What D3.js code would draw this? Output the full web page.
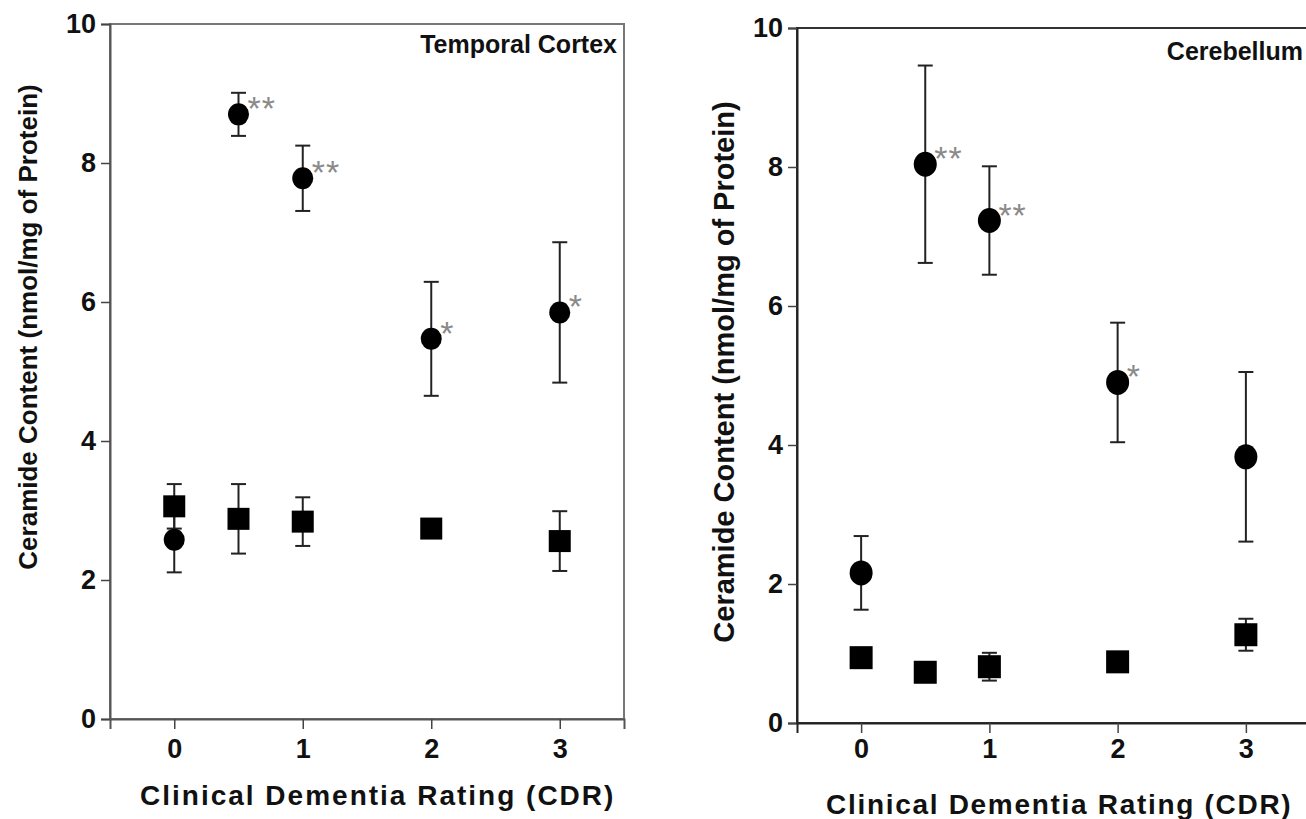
<!doctype html>
<html>
<head>
<meta charset="utf-8">
<style>
    body { margin: 0; background: #fff; }
    text { font-family: "Liberation Sans", Arial, sans-serif; font-weight: bold; }
    .tick text { font-size: 27px; fill: #111; }
    .mark { fill: #8a8a8a; font-size: 34px; font-weight: normal; }
</style>
<script src="https://d3js.org/d3.v7.min.js"></script>
</head>
<body>
<svg width="1306" height="819"></svg>
<script>
    // CDR groups on the x axis
    var cdr = [0, 0.5, 1, 2, 3];
    var xTicks = [0, 1, 2, 3];
    var yTicks = [0, 2, 4, 6, 8, 10];

    // Temporal cortex: circles and squares with SEM
    var tcCircle    = [2.58, 8.70, 7.78, 5.47, 5.85];
    var tcCircleErr = [0.47, 0.31, 0.47, 0.82, 1.01];
    var tcCircleMark = ["", "**", "**", "*", "*"];
    var tcSquare    = [3.06, 2.88, 2.84, 2.74, 2.56];
    var tcSquareErr = [0.32, 0.50, 0.35, 0.10, 0.43];

    // Cerebellum
    var cbCircle    = [2.16, 8.04, 7.23, 4.90, 3.83];
    var cbCircleErr = [0.53, 1.42, 0.78, 0.86, 1.22];
    var cbCircleMark = ["", "**", "**", "*", ""];
    var cbSquare    = [0.94, 0.73, 0.81, 0.88, 1.27];
    var cbSquareErr = [0.10, 0.10, 0.20, 0.10, 0.23];

    var svg = d3.select("svg");

    function drawPanel(p) {
        var x = d3.scaleLinear().domain([-0.5, 3.5]).range([p.left, p.right]);
        var y = d3.scaleLinear().domain([0, 10]).range([p.bottom, p.top]);
        var g = svg.append("g");

        // frame
        g.append("rect")
         .attr("x", p.left).attr("y", p.top)
         .attr("width", p.right - p.left).attr("height", p.bottom - p.top)
         .attr("fill", "none")
         .attr("stroke", p.frame)
         .attr("stroke-width", 2);

        var yAxis = g.append("g")
         .attr("transform", "translate(" + p.left + ",0)")
         .call(d3.axisLeft(y).tickValues(yTicks).tickFormat(d3.format("d"))
               .tickSize(9).tickPadding(5));
        var xAxis = g.append("g")
         .attr("transform", "translate(0," + p.bottom + ")")
         .call(d3.axisBottom(x).tickValues(xTicks).tickFormat(d3.format("d"))
               .tickSize(10).tickPadding(p.xPad));
        [yAxis, xAxis].forEach(function(a) {
            a.select(".domain").attr("stroke", p.axis).attr("stroke-width", 2);
            a.selectAll(".tick line").attr("stroke", "#444").attr("stroke-width", 1.5);
            a.attr("font-size", null).attr("font-family", null);
        });

        // panel name
        g.append("text")
         .attr("x", p.right - 7)
         .attr("y", p.top + p.nameDy)
         .attr("text-anchor", "end")
         .attr("font-size", "25px")
         .attr("fill", "#111")
         .text(p.name);

        // axis titles
        g.append("text")
         .attr("x", p.xTitleX)
         .attr("y", p.xTitleY)
         .attr("font-size", "28px")
         .attr("letter-spacing", p.xTitleSpacing)
         .attr("fill", "#111")
         .text("Clinical Dementia Rating (CDR)");

        g.append("text")
         .attr("transform", "translate(" + p.yTitleX + "," + p.yTitleY + ") rotate(-90)")
         .attr("text-anchor", "middle")
         .attr("font-size", p.yTitleSize)
         .attr("fill", "#111")
         .text("Ceramide Content (nmol/mg of Protein)");

        var circles = cdr.map(function(c, i) {
            return { x: c, v: p.circle[i], e: p.circleErr[i], m: p.mark[i] };
        });
        var squares = cdr.map(function(c, i) {
            return { x: c, v: p.square[i], e: p.squareErr[i] };
        });

        var cap = 7.5;
        function errBars(data) {
            var eb = g.selectAll(null).data(data).enter().append("g")
                      .attr("stroke", "#222").attr("stroke-width", 2);
            eb.append("line")
              .attr("x1", function(d) { return x(d.x); })
              .attr("x2", function(d) { return x(d.x); })
              .attr("y1", function(d) { return y(d.v + d.e); })
              .attr("y2", function(d) { return y(d.v - d.e); });
            [1, -1].forEach(function(s) {
                eb.append("line")
                  .attr("x1", function(d) { return x(d.x) - cap; })
                  .attr("x2", function(d) { return x(d.x) + cap; })
                  .attr("y1", function(d) { return y(d.v + s * d.e); })
                  .attr("y2", function(d) { return y(d.v + s * d.e); });
            });
        }
        errBars(circles);
        errBars(squares);

        g.selectAll(null).data(squares).enter().append("rect")
         .attr("x", function(d) { return x(d.x) - p.sq / 2; })
         .attr("y", function(d) { return y(d.v) - p.sq / 2; })
         .attr("width", p.sq).attr("height", p.sq)
         .attr("fill", "#000");

        g.selectAll(null).data(circles).enter().append("ellipse")
         .attr("cx", function(d) { return x(d.x); })
         .attr("cy", function(d) { return y(d.v); })
         .attr("rx", p.rx).attr("ry", p.ry)
         .attr("fill", "#000");

        g.selectAll(null).data(circles).enter().append("text")
         .attr("class", "mark")
         .attr("x", function(d) { return x(d.x) + 9; })
         .attr("y", function(d) { return y(d.v) + 6; })
         .attr("letter-spacing", "1px")
         .text(function(d) { return d.m; });
    }

    drawPanel({
        left: 110, right: 624, top: 24, bottom: 719,
        frame: "#777", axis: "#555", xPad: 10,
        name: "Temporal Cortex", nameDy: 29,
        xTitleX: 140, xTitleY: 805, xTitleSpacing: "2px",
        yTitleX: 37, yTitleY: 327, yTitleSize: "26px",
        circle: tcCircle, circleErr: tcCircleErr, mark: tcCircleMark,
        square: tcSquare, squareErr: tcSquareErr,
        rx: 10.5, ry: 11, sq: 22
    });

    drawPanel({
        left: 797, right: 1310, top: 28, bottom: 723,
        frame: "#333", axis: "#222", xPad: 6,
        name: "Cerebellum", nameDy: 32,
        xTitleX: 826, xTitleY: 814, xTitleSpacing: "1.7px",
        yTitleX: 734, yTitleY: 372, yTitleSize: "29px",
        circle: cbCircle, circleErr: cbCircleErr, mark: cbCircleMark,
        square: cbSquare, squareErr: cbSquareErr,
        rx: 11.5, ry: 12.5, sq: 23
    });
</script>
</body>
</html>
